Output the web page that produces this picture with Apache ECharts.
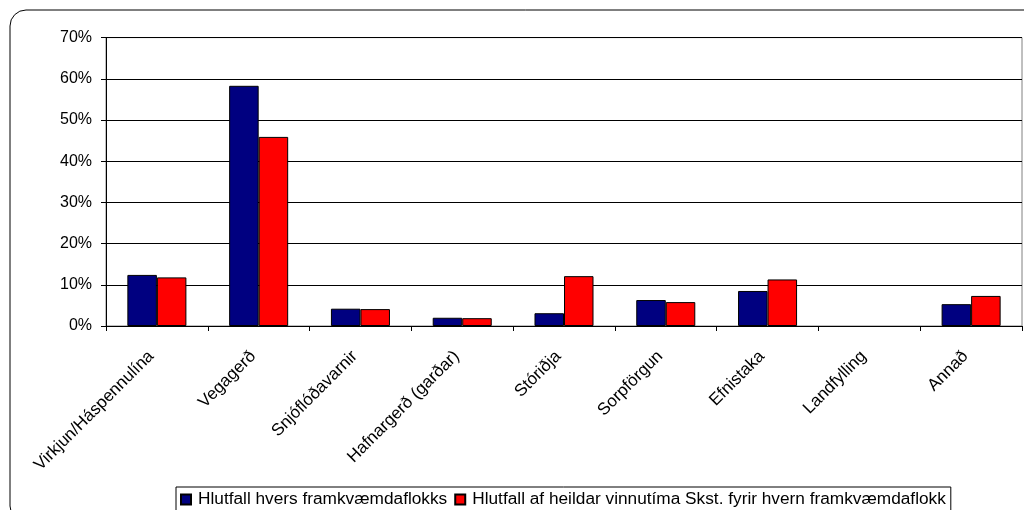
<!DOCTYPE html>
<html><head><meta charset="utf-8">
<script src="https://cdn.jsdelivr.net/npm/echarts@6/dist/echarts.min.js"></script>
<style>html,body{margin:0;padding:0;background:#fff}#c{width:1024px;height:510px}</style>
</head><body><div id="c"></div>
<script>
const categories = ['Virkjun/Háspennulína','Vegagerð','Snjóflóðavarnir','Hafnargerð (garðar)','Stóriðja','Sorpförgun','Efnistaka','Landfylling','Annað'];
const seriesNames = ['Hlutfall hvers framkvæmdaflokks','Hlutfall af heildar vinnutíma Skst. fyrir hvern framkvæmdaflokk'];
const shareOfCategory = [12.4, 58.3, 4.2, 2.0, 3.1, 6.3, 8.5, 0, 5.3];
const shareOfHours = [11.8, 45.9, 4.1, 1.9, 12.1, 5.8, 11.3, 0, 7.3];
const yTicks = [0,10,20,30,40,50,60,70];

const chart = echarts.init(document.getElementById('c'), null, {renderer:'canvas'});
const font = 'Liberation Sans, Arial, sans-serif';
const toData = arr => arr.map(v => v === 0 ? {value:v, itemStyle:{borderWidth:0}} : v);
chart.setOption({
  animation:false,
  backgroundColor:'#fff',
  graphic:[{type:'rect', z:-1, shape:{x:10,y:10,width:1040,height:512,r:16}, style:{fill:'none',stroke:'#000',lineWidth:1}}],
  grid:{left:106,right:2,top:37.6,bottom:184,show:true,borderColor:'#808080',borderWidth:1,containLabel:false},
  legend:{
    left:176, top:487, padding:[4,5,8,4], itemGap:7, itemWidth:10, itemHeight:10, icon:'rect',
    borderColor:'#000', borderWidth:1, backgroundColor:'#fff',
    textStyle:{fontFamily:font,fontSize:17.25,color:'#000',padding:[0,0,0,2]},
    data:seriesNames
  },
  xAxis:{type:'category',data:categories,
    axisLine:{lineStyle:{color:'#000',width:1}},
    axisTick:{show:true,length:5,lineStyle:{color:'#000'}},
    axisLabel:{rotate:45,fontFamily:font,fontSize:17,color:'#000',margin:22,interval:0,padding:[0,8,0,0]}
  },
  yAxis:{type:'value',min:yTicks[0],max:yTicks[yTicks.length-1],interval:10,
    axisLine:{show:true,lineStyle:{color:'#000'}},
    axisTick:{show:true,length:5,lineStyle:{color:'#000'}},
    axisLabel:{formatter:'{value}%',fontFamily:font,fontSize:16,color:'#000',margin:14},
    splitLine:{lineStyle:{color:'#000',width:1}}
  },
  series:[
    {name:seriesNames[0],type:'bar',data:toData(shareOfCategory),barGap:'0%',barCategoryGap:'42%',
     itemStyle:{color:'#000080',borderColor:'#000',borderWidth:1}},
    {name:seriesNames[1],type:'bar',data:toData(shareOfHours),barGap:'0%',barCategoryGap:'42%',
     itemStyle:{color:'#ff0000',borderColor:'#000',borderWidth:1}}
  ]
});
</script></body></html>
